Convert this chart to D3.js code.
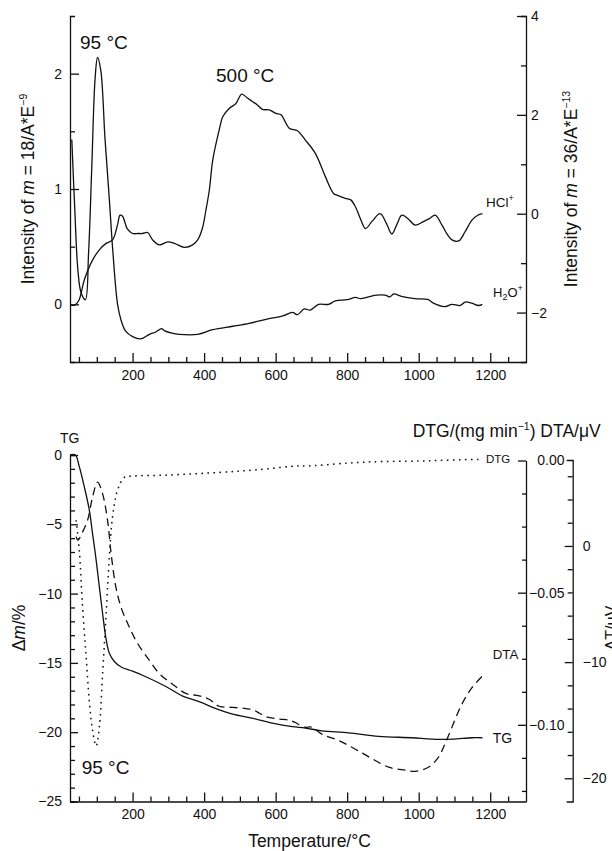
<!DOCTYPE html>
<html>
<head>
<meta charset="utf-8">
<script src="https://cdn.jsdelivr.net/npm/d3@7"></script>
<style>
  body { margin: 0; background: #fff; }
  svg { font-family: 'Liberation Sans', Arial, sans-serif; }
</style>
</head>
<body>
<script>
/* global d3 */

// ---- data ----
// top panel, m = 18 (H2O+), left axis
let tempH2O = [30, 38, 47, 56, 68, 77, 86, 95, 102, 111, 123, 135, 145, 158, 168, 180, 200, 223, 247, 265, 281, 290, 310, 330, 382, 424, 480, 526, 573, 620, 647, 661, 680, 697, 720, 748, 767, 800, 823, 837, 860, 883, 906, 920, 930, 952, 989, 1027, 1041, 1074, 1093, 1116, 1130, 1149, 1167, 1178]
let valH2O = [1.43, 0.85, 0.3, 0.1, 0.04, 0.45, 1.2, 1.95, 2.14, 2.03, 1.43, 0.91, 0.45, 0.0, -0.14, -0.23, -0.28, -0.30, -0.26, -0.24, -0.21, -0.23, -0.25, -0.26, -0.26, -0.22, -0.19, -0.165, -0.13, -0.10, -0.07, -0.09, -0.04, -0.05, 0.0, 0.0, 0.03, 0.04, 0.06, 0.05, 0.065, 0.08, 0.08, 0.065, 0.09, 0.07, 0.05, 0.04, 0.01, -0.02, 0.0, -0.01, 0.02, 0.01, -0.01, 0.0]

// top panel, m = 36 (HCl+), right axis
let tempHCl = [28, 38, 50, 65, 88, 107, 126, 144, 158, 165, 172, 185, 200, 215, 228, 242, 256, 275, 298, 317, 345, 368, 382, 395, 405, 415, 424, 442, 452, 470, 489, 505, 521, 535, 549, 563, 582, 601, 615, 638, 661, 683, 711, 739, 762, 773, 795, 810, 823, 837, 851, 870, 892, 910, 925, 940, 953, 970, 990, 1013, 1030, 1046, 1065, 1080, 1093, 1112, 1130, 1149, 1165, 1178]
let valHCl = [-1.85, -1.85, -1.75, -1.34, -0.94, -0.73, -0.6, -0.53, -0.22, -0.03, -0.05, -0.3, -0.4, -0.4, -0.4, -0.38, -0.53, -0.63, -0.57, -0.6, -0.68, -0.63, -0.53, -0.3, 0.07, 0.5, 1.08, 1.69, 1.96, 2.13, 2.23, 2.42, 2.34, 2.27, 2.2, 2.11, 2.10, 2.03, 2.0, 1.73, 1.68, 1.49, 1.22, 0.75, 0.41, 0.37, 0.31, 0.28, 0.14, -0.1, -0.3, -0.15, 0.0, -0.2, -0.41, -0.2, -0.03, -0.1, -0.23, -0.16, -0.1, -0.03, -0.23, -0.42, -0.53, -0.55, -0.36, -0.13, -0.03, 0.0]

// bottom panel, TG (%), left axis
let tempTG = [25, 40, 51, 65, 79, 88, 98, 107, 116, 126, 135, 149, 168, 200, 237, 293, 340, 386, 433, 480, 536, 601, 647, 683, 729, 804, 888, 981, 1037, 1093, 1149, 1178]
let valTG = [0, 0, -0.84, -2.3, -3.97, -5.65, -7.57, -9.5, -11.4, -13.3, -14.3, -14.9, -15.3, -15.6, -16.0, -16.7, -17.4, -17.8, -18.3, -18.7, -19.0, -19.4, -19.6, -19.7, -19.9, -20.05, -20.3, -20.4, -20.5, -20.5, -20.4, -20.4]

// bottom panel, DTG (mg/min)
let tempDTG = [42, 51, 60, 70, 79, 88, 98, 107, 116, 126, 135, 144, 158, 177, 200, 300, 442, 550, 666, 683, 800, 869, 1000, 1055, 1120, 1167, 1178]
let valDTG = [-0.0226, -0.034, -0.055, -0.074, -0.091, -0.102, -0.108, -0.101, -0.081, -0.058, -0.0365, -0.0213, -0.0112, -0.0064, -0.0059, -0.0055, -0.0045, -0.0035, -0.002, -0.0021, -0.001, -0.0005, -0.0002, 0, 0.0003, 0.0004, 0.0004]

// bottom panel, DTA (uV)
let tempDTA = [42, 47, 60, 74, 88, 102, 116, 130, 140, 153, 168, 191, 214, 247, 275, 312, 349, 386, 414, 442, 480, 517, 536, 555, 573, 610, 638, 655, 680, 700, 729, 776, 823, 869, 916, 962, 990, 1027, 1055, 1074, 1093, 1121, 1149, 1178]
let valDTA = [0.8, 0.5, 1.2, 2.2, 4.2, 5.5, 4.5, 2.2, -0.66, -3.5, -5.3, -7.0, -8.4, -9.85, -11.0, -11.9, -12.7, -12.9, -13.2, -13.8, -13.9, -14.0, -14.1, -14.4, -14.7, -14.9, -15.0, -15.2, -15.6, -15.6, -16.2, -16.75, -17.5, -18.3, -19.05, -19.3, -19.4, -19.05, -18.2, -17.0, -15.6, -13.6, -12.2, -11.2]

// ticks
let xMajor = [200, 400, 600, 800, 1000, 1200]
let xMinor = d3.range(50, 1300, 50).filter(d => d % 200 !== 0)
let h2oMajor = [0, 1, 2]
let h2oMinor = [0.5, 1.5]
let hclMajor = [-2, 0, 2, 4]
let hclMinor = [-1, 1, 3]
let tgMajor = [0, -5, -10, -15, -20, -25]
let tgMinor = d3.range(-1, -25, -1).filter(d => d % 5 !== 0)
let dtgMajor = [0, -0.05, -0.1]
let dtgMinor = [1, 2, 3, 5, 6, 7, 9, 10].map(k => -0.0125 * k)
let dtaMajor = [0, -10, -20]
let dtaMinor = [6, 4, 2, -2, -4, -6, -8, -12, -14, -16, -18]

const FONT = "'Liberation Sans', Arial, sans-serif"
const TICK_FS = '14px'

let svg = d3.select('body').append('svg')
    .attr('width', 612)
    .attr('height', 851)

// draws minor (unlabelled) and major ticks, both pointing into the plot
function drawAxis (parent, axisFn, scale, majors, minors, fmt, majorLen, minorLen, pad, outer) {
    parent.append('g')
        .call(axisFn(scale).tickValues(minors).tickFormat('').tickSizeInner(-minorLen).tickSizeOuter(0))
        .call(g => g.select('.domain').remove())
    let g = parent.append('g')
        .call(axisFn(scale).tickValues(majors).tickFormat(fmt)
            .tickSizeInner(-majorLen).tickSizeOuter(outer).tickPadding(pad))
    g.style('font-size', TICK_FS).style('font-family', FONT)
    parent.selectAll('path, line').attr('stroke', '#111').attr('stroke-width', 1.3)
    g.selectAll('text').attr('fill', '#111')
    return g
}

function curve (g, temps, vals, x, y, dash, width) {
    let line = d3.line()
        .x(d => x(d[0]))
        .y(d => y(d[1]))
        .curve(d3.curveCatmullRom.alpha(0.5))
    g.append('path')
        .attr('d', line(d3.zip(temps, vals)))
        .attr('fill', 'none')
        .attr('stroke', '#111')
        .attr('stroke-width', width || 1.3)
        .attr('stroke-dasharray', dash || null)
}

function label (g, x, y, size, parts, opts) {
    opts = opts || {}
    let t = g.append('text')
        .attr('x', x)
        .attr('y', y)
        .attr('fill', '#111')
        .style('font-size', size + 'px')
        .style('font-family', FONT)
        .attr('text-anchor', opts.anchor || 'start')
    if (opts.rotate) {
        t.attr('transform', 'rotate(-90,' + x + ',' + y + ')')
    }
    parts.forEach(p => {
        if (typeof p === 'string') p = { t: p }
        let s = t.append('tspan').text(p.t)
        if (p.dy) s.attr('dy', p.dy)
        if (p.size) s.style('font-size', p.size + 'px')
        if (p.italic) s.style('font-style', 'italic')
    })
    return t
}

// ---------------- top panel ----------------
let topPanel = svg.append('g').attr('class', 'top')
let x = d3.scaleLinear().domain([25, 1300]).range([70, 526])
let yH2O = d3.scaleLinear().domain([-0.5, 2.5]).range([362, 16])
let yHCl = d3.scaleLinear().domain([-3, 4]).range([362, 16])

drawAxis(topPanel.append('g').attr('transform', 'translate(0,362)'),
    d3.axisBottom, x, xMajor, xMinor, d3.format('d'), 9, 5, 8, 0)
drawAxis(topPanel.append('g').attr('transform', 'translate(70,0)'),
    d3.axisLeft, yH2O, h2oMajor, h2oMinor, d3.format('d'), 9, 5, 8, -5)
drawAxis(topPanel.append('g').attr('transform', 'translate(526,0)'),
    d3.axisRight, yHCl, hclMajor, hclMinor, d3.format('d'), 9, 5, 5, -5)

curve(topPanel, tempH2O, valH2O, x, yH2O)
curve(topPanel, tempHCl, valHCl, x, yHCl)

label(topPanel, 80, 49, 19, ['95 °C'])
label(topPanel, 216, 82, 19, ['500 °C'])
label(topPanel, 486, 207, 13.5, ['HCl', { t: '+', size: 9, dy: -6 }])
label(topPanel, 493, 297, 13, ['H', { t: '2', size: 9, dy: 3 }, { t: 'O', dy: -3 }, { t: '+', size: 9, dy: -6 }])
label(topPanel, 33.5, 189, 17.5, ['Intensity of ', { t: 'm', italic: true }, ' = 18/A*E', { t: '\u22129', size: 10.5, dy: -7 }],
    { rotate: true, anchor: 'middle' })
label(topPanel, 576.5, 189, 17.5, ['Intensity of ', { t: 'm', italic: true }, ' = 36/A*E', { t: '\u221213', size: 10.5, dy: -7 }],
    { rotate: true, anchor: 'middle' })

// ---------------- bottom panel ----------------
let botPanel = svg.append('g').attr('class', 'bottom')
let yTG = d3.scaleLinear().domain([-25, 0]).range([801.5, 455])
let yDTG = d3.scaleLinear().domain([-0.129, 0]).range([801.5, 460.5])
let yDTA = d3.scaleLinear().domain([-22, 7.4]).range([801.5, 460])

drawAxis(botPanel.append('g').attr('transform', 'translate(0,801.5)'),
    d3.axisBottom, x, xMajor, xMinor, d3.format('d'), 9, 5, 8, 0)
drawAxis(botPanel.append('g').attr('transform', 'translate(70,0)'),
    d3.axisLeft, yTG, tgMajor, tgMinor, d3.format('d'), 8, 5, 8, -5)
let dtgAxis = drawAxis(botPanel.append('g').attr('transform', 'translate(526,0)'),
    d3.axisRight, yDTG, dtgMajor, dtgMinor, d3.format('.2f'), 8, 4, 4, 0)
dtgAxis.selectAll('text').attr('text-anchor', 'end').attr('x', 38.5)
drawAxis(botPanel.append('g').attr('transform', 'translate(572.7,0)'),
    d3.axisRight, yDTA, dtaMajor, dtaMinor, d3.format('d'), 8, 5, 10, -6)

curve(botPanel, tempTG, valTG, x, yTG)
curve(botPanel, tempDTG, valDTG, x, yDTG, '1.6,4.4', 1.5)
curve(botPanel, tempDTA, valDTA, x, yDTA, '8,5')

label(botPanel, 60, 443, 14, ['TG'])
label(botPanel, 486, 463, 11.5, ['DTG'])
label(botPanel, 492.7, 659, 13.3, ['DTA'])
label(botPanel, 492.7, 743, 14, ['TG'])
label(botPanel, 81.7, 774, 19, ['95 °C'])
label(botPanel, 412.7, 436.7, 17.5, ['DTG/(mg min', { t: '\u22121', size: 10.5, dy: -7 }, { t: ') DTA/\u03bcV', dy: 7 }])
label(botPanel, 309.5, 847, 17.5, ['Temperature/°C'], { anchor: 'middle' })
label(botPanel, 25, 628, 17.5, ['\u0394', { t: 'm', italic: true }, '/%'], { rotate: true, anchor: 'middle' })
label(botPanel, 617, 628, 16, ['\u0394T/\u03bcV'], { rotate: true, anchor: 'middle' })
</script>
</body>
</html>
